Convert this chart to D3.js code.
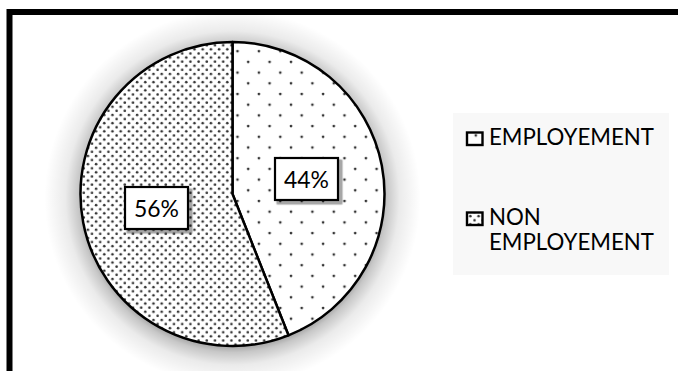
<!DOCTYPE html>
<html><head><meta charset="utf-8">
<script src="https://cdn.jsdelivr.net/npm/d3@7"></script>
<style>html,body{margin:0;padding:0;background:#fff;}svg{display:block;}</style>
</head><body>
<svg id="chart" width="678" height="371"></svg>
<script>
const categories = ["EMPLOYEMENT", "NON EMPLOYEMENT"];
const values = [44, 56];
const valueLabels = ["44%", "56%"];
const legendLines = [["EMPLOYEMENT"], ["NON", "EMPLOYEMENT"]];

const FONT = "Lato, 'Open Sans', sans-serif";
const svg = d3.select("#chart");
const defs = svg.append("defs");

// patterns
const p1 = defs.append("pattern").attr("id","pSparse").attr("patternUnits","userSpaceOnUse")
  .attr("width",21.4).attr("height",21.4).attr("x",3).attr("y",5);
p1.append("rect").attr("width",21.4).attr("height",21.4).attr("fill","#fff");
p1.append("circle").attr("cx",2).attr("cy",2).attr("r",1.35).attr("fill","#333");
p1.append("circle").attr("cx",12.7).attr("cy",12.7).attr("r",1.35).attr("fill","#333");

const p2 = defs.append("pattern").attr("id","pDense").attr("patternUnits","userSpaceOnUse")
  .attr("width",8.2).attr("height",8.2).attr("x",1).attr("y",1);
p2.append("rect").attr("width",8.2).attr("height",8.2).attr("fill","#fff");
p2.append("circle").attr("cx",2).attr("cy",2).attr("r",1.3).attr("fill","#333");
p2.append("circle").attr("cx",6.1).attr("cy",6.1).attr("r",1.3).attr("fill","#333");

const cx = 232.5, cy = 194, r = 152, halo = 36;
const rg = defs.append("radialGradient").attr("id","halo")
  .attr("cx","50%").attr("cy","50%").attr("r","50%");
const k = (r - 6) / (r + halo);
[[0,0.4],[k,0.4],[k + (1-k)*0.2,0.22],[k + (1-k)*0.5,0.08],[1,0]].forEach(([o,a])=>{
  rg.append("stop").attr("offset",o).attr("stop-color","#000").attr("stop-opacity",a);
});

// frame
svg.append("rect").attr("x",9.5).attr("y",12).attr("width",700).attr("height",400)
  .attr("fill","none").attr("stroke","#000").attr("stroke-width",6);

const g = svg.append("g").attr("transform",`translate(${cx},${cy})`);
const pie = d3.pie().sort(null).value(d=>d)(values);
const arc = d3.arc().innerRadius(0).outerRadius(r);
const fills = ["url(#pSparse)","url(#pDense)"];

// soft halo shadow
g.append("circle").attr("cx",0).attr("cy",4).attr("r",r+halo).attr("fill","url(#halo)");
g.append("circle").attr("r",r).attr("fill","#fff");
g.selectAll("path.slice").data(pie).join("path").attr("class","slice")
  .attr("d",arc).attr("fill",(d,i)=>fills[i]).attr("stroke","#000").attr("stroke-width",2.5)
  .attr("stroke-linejoin","round");

function fitWidth(textSel, target) {
  const w = textSel.node().getComputedTextLength();
  const fs = parseFloat(textSel.attr("font-size"));
  textSel.attr("font-size", fs * target / w);
}

// labels
const labelPos = [[306.5,179,188],[156.5,208,217]];
pie.forEach((d,i)=>{
  const [x,y,base] = labelPos[i];
  const lg = svg.append("g");
  [[5,0.06],[4,0.09],[3,0.12],[2,0.12]].forEach(([s,a])=>{
    lg.append("rect").attr("x",x-31.5+3-s/2).attr("y",y-21+3-s/2)
      .attr("width",63+s).attr("height",42+s).attr("rx",s/2)
      .attr("fill","#000").attr("opacity",a);
  });
  lg.append("rect").attr("x",x-31.5).attr("y",y-21).attr("width",63).attr("height",42)
    .attr("fill","#fff").attr("stroke","#000").attr("stroke-width",2.2);
  const t = lg.append("text").attr("text-anchor","middle").attr("x",x).attr("y",base)
    .attr("font-family",FONT).attr("font-size",22).attr("fill","#000")
    .text(valueLabels[i]);
  fitWidth(t, 45);
});

// legend
svg.append("rect").attr("x",453).attr("y",113).attr("width",216).attr("height",162).attr("fill","#f8f8f8");
const legY = [145, 225];
let legendFs = null;
categories.forEach((c,i)=>{
  const lg = svg.append("g");
  lg.append("rect").attr("x",467).attr("y",legY[i]-12.5).attr("width",15.5).attr("height",12.5)
    .attr("fill",fills[i]).attr("stroke","#000").attr("stroke-width",2.4);
  legendLines[i].forEach((ln,j)=>{
    const t = lg.append("text").attr("font-family",FONT).attr("font-size",20).attr("fill","#000")
      .attr("x",489).attr("y",legY[i]+j*25).text(ln);
    if (legendFs === null) { fitWidth(t, 165); legendFs = t.attr("font-size"); }
    else t.attr("font-size", legendFs);
  });
});
</script>
</body></html>
